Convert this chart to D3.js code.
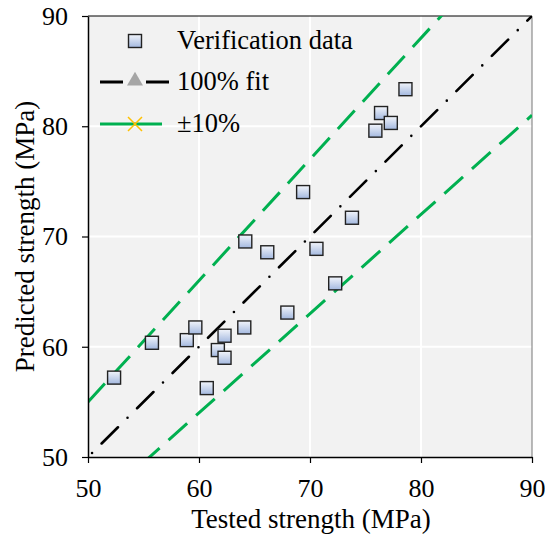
<!DOCTYPE html>
<html>
<head>
<meta charset="utf-8">
<script src="https://cdn.jsdelivr.net/npm/d3@7"></script>
<style>
  body { margin: 0; background: #fff; }
</style>
</head>
<body>
<script>
// verification data
var tested = [52.35, 55.76, 58.9, 59.67, 60.7, 61.7, 62.3, 62.3, 64.08, 64.17,
              66.15, 67.96, 69.38, 73.78, 70.58, 72.27, 78.6, 76.4, 77.28, 75.89];
var predicted = [57.2, 60.36, 60.6, 61.75, 56.25, 59.7, 61.0, 59.0, 61.75, 69.55,
                 68.57, 63.1, 74.03, 71.7, 68.88, 65.75, 83.36, 81.2, 80.3, 79.6];
var xTicks = [50, 60, 70, 80, 90];
var yTicks = [50, 60, 70, 80, 90];
var fitRange = [50, 90];
var legendLabels = ["Verification data", "100% fit", "\u00b110%"];

var FONT = 'Liberation Serif';

var margin = { top: 16, right: 13, bottom: 78, left: 88 },
    width = 545 - margin.left - margin.right,
    height = 535 - margin.top - margin.bottom;

var x = d3.scaleLinear().domain([50, 90]).range([0, width]);
var y = d3.scaleLinear().domain([50, 90]).range([height, 0]);

var svg = d3.select('body')
  .append('svg')
    .attr('width', 545)
    .attr('height', 535);

var defs = svg.append('defs');
var grad = defs.append('linearGradient')
  .attr('id', 'sq').attr('x1', 0).attr('y1', 0).attr('x2', 0).attr('y2', 1);
grad.append('stop').attr('offset', '0%').attr('stop-color', '#f2f5fb');
grad.append('stop').attr('offset', '100%').attr('stop-color', '#a3b8df');
defs.append('clipPath').attr('id', 'plotclip')
  .append('rect').attr('width', width).attr('height', height);

var g = svg.append('g')
  .attr('transform', 'translate(' + margin.left + ',' + margin.top + ')');

g.append('rect')
  .attr('width', width).attr('height', height)
  .attr('fill', '#f2f2f2');

// grid
g.selectAll('.gx').data(xTicks.slice(1, -1)).enter().append('line')
  .attr('x1', function(d) { return x(d); }).attr('x2', function(d) { return x(d); })
  .attr('y1', 0).attr('y2', height)
  .attr('stroke', '#fff').attr('stroke-width', 2);
g.selectAll('.gy').data(yTicks.slice(1, -1)).enter().append('line')
  .attr('y1', function(d) { return y(d); }).attr('y2', function(d) { return y(d); })
  .attr('x1', 0).attr('x2', width)
  .attr('stroke', '#fff').attr('stroke-width', 2);

// frame top / right
g.append('line').attr('x1', 0).attr('x2', width).attr('y1', 0).attr('y2', 0)
  .attr('stroke', '#000').attr('stroke-width', 1);
g.append('line').attr('x1', width).attr('x2', width).attr('y1', 0).attr('y2', height)
  .attr('stroke', '#777').attr('stroke-width', 1);

var lines = g.append('g').attr('clip-path', 'url(#plotclip)');

var line = d3.line()
  .x(function(d) { return x(d[0]); })
  .y(function(d) { return y(d[1]); });

function ratioLine(k) {
  return fitRange.map(function(v) { return [v, v * k]; });
}

lines.append('path')
  .attr('d', line(ratioLine(1.1)))
  .attr('fill', 'none').attr('stroke', '#00b050').attr('stroke-width', 3)
  .attr('stroke-dasharray', '25,12');
lines.append('path')
  .attr('d', line(ratioLine(0.9)))
  .attr('fill', 'none').attr('stroke', '#00b050').attr('stroke-width', 3)
  .attr('stroke-dasharray', '25,12').attr('stroke-dashoffset', 3);
lines.append('path')
  .attr('d', line(ratioLine(1)))
  .attr('fill', 'none').attr('stroke', '#000').attr('stroke-width', 2.6)
  .attr('stroke-linecap', 'round')
  .attr('stroke-dasharray', '23,13.5,0,13.5')
  .attr('stroke-dashoffset', 30.8);

// points
var pts = tested.map(function(t, i) { return [t, predicted[i]]; });
var s = 13;
g.selectAll('.pt').data(pts).enter().append('rect')
  .attr('x', function(d) { return x(d[0]) - s / 2; })
  .attr('y', function(d) { return y(d[1]) - s / 2; })
  .attr('width', s).attr('height', s)
  .attr('fill', 'url(#sq)')
  .attr('stroke', '#222').attr('stroke-width', 1.4);

// axes
var xAxis = g.append('g')
  .attr('transform', 'translate(0,' + height + ')')
  .call(d3.axisBottom(x).tickValues(xTicks).tickSize(6).tickSizeOuter(0));
var yAxis = g.append('g')
  .call(d3.axisLeft(y).tickValues(yTicks).tickSize(6).tickSizeOuter(0));
[xAxis, yAxis].forEach(function(a) {
  a.attr('font-family', FONT).attr('font-size', 26);
  a.select('.domain').attr('stroke', '#000').attr('stroke-width', 1.5);
  a.selectAll('.tick line').attr('stroke', '#000').attr('stroke-width', 1.2);
  a.selectAll('.tick text').attr('fill', '#000');
});
xAxis.selectAll('.tick text').attr('dy', '0.95em').attr('y', 15);
yAxis.selectAll('.tick text').attr('x', -20);

svg.append('text')
  .attr('x', margin.left + width / 2 + 1).attr('y', 528)
  .attr('text-anchor', 'middle')
  .attr('font-family', FONT).attr('font-size', 27)
  .text('Tested strength (MPa)');
svg.append('text')
  .attr('transform', 'translate(34,' + (margin.top + height / 2) + ') rotate(-90)')
  .attr('text-anchor', 'middle')
  .attr('font-family', FONT).attr('font-size', 27)
  .text('Predicted strength (MPa)');

// legend
var leg = svg.append('g');
var ly = [41, 82, 124];
leg.append('rect').attr('x', 135 - 6.5).attr('y', ly[0] - 6.5)
  .attr('width', s).attr('height', s)
  .attr('fill', 'url(#sq)').attr('stroke', '#222').attr('stroke-width', 1.4);
leg.append('line').attr('x1', 100).attr('x2', 169).attr('y1', ly[1]).attr('y2', ly[1])
  .attr('stroke', '#000').attr('stroke-width', 3)
  .attr('stroke-dasharray', '23,23');
leg.append('path')
  .attr('d', d3.symbol(d3.symbolTriangle, 110)())
  .attr('transform', 'translate(135,' + (ly[1] - 1) + ')')
  .attr('fill', '#a6a6a6');
leg.append('line').attr('x1', 100).attr('x2', 162).attr('y1', ly[2]).attr('y2', ly[2])
  .attr('stroke', '#00b050').attr('stroke-width', 3);
leg.append('path')
  .attr('d', 'M-7,-7L7,7M-7,7L7,-7')
  .attr('transform', 'translate(135,' + ly[2] + ')')
  .attr('stroke', '#ffc000').attr('stroke-width', 1.5);
leg.selectAll('.lt').data(legendLabels).enter().append('text')
  .attr('x', 177).attr('y', function(d, i) { return ly[i]; })
  .attr('dy', '0.3em')
  .attr('font-family', FONT).attr('font-size', 26.5)
  .text(function(d) { return d; });
</script>
</body>
</html>
